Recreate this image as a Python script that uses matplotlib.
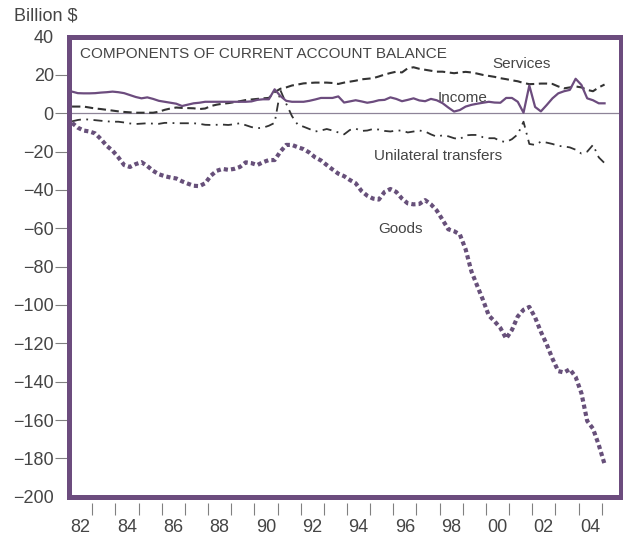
import numpy as np
import pandas as pd
import matplotlib
matplotlib.use("Agg")
import matplotlib.pyplot as plt
from matplotlib.patches import Rectangle

plt.rcParams['font.family'] = ['Liberation Sans', 'DejaVu Sans']

# Quarterly data, 1982Q1 - 2005Q1, billion $
quarters = pd.period_range('1982Q1', '2005Q1', freq='Q')

goods = [-5, -7.5, -9, -9.5, -10.5, -13.5, -17, -19.5, -23, -27,
         -28, -26.5, -25.5, -27.5, -30, -31.8, -32.8, -33.5, -34, -35.5,
         -36.7, -37.8, -38, -36.5, -32.5, -30, -29, -29.5, -29, -28,
         -25.6, -26, -27, -25.5, -24.4, -24.4, -20, -16.5, -16.5, -17.7,
         -18.7, -20.5, -23, -24.6, -27, -29.3, -31.5, -32.8, -34.8, -36.5,
         -40.5, -43, -44.5, -45, -41, -39.5, -41, -44.5, -47, -47.5,
         -47.3, -45.3, -47.5, -50.7, -55.5, -60.5, -61.5, -63.2, -71, -82.5,
         -90, -97.4, -105.5, -108.5, -112, -117.5, -113, -106, -102.5, -101,
         -106.5, -114, -120.5, -128, -134.5, -135.2, -133.5, -137.5, -146, -160.5,
         -164.5, -173, -183]

income = [11.3, 10.5, 10.4, 10.4, 10.5, 10.8, 11, 11.3, 11, 10.5,
          9.5, 8.5, 7.8, 8.3, 7.5, 6.5, 6, 5.5, 5, 3.8,
          4.5, 5.2, 5.5, 6, 6, 6, 6, 6, 6, 6,
          6, 6.2, 7, 7.3, 7.3, 12.5, 9, 6.5, 6, 6,
          6, 6.5, 7.2, 8, 8, 8, 8.8, 5.6, 6.2, 6.8,
          6.2, 5.5, 6, 6.8, 7, 8.3, 7.5, 6.3, 7, 7.8,
          6.7, 6.3, 7.5, 6.8, 5.3, 3, 0.9, 1.7, 3.5, 4.4,
          5, 5.5, 6, 5.6, 5.5, 8, 8, 6, 0.3, 14.5,
          3.3, 1, 4.3, 7.8, 10.4, 11.5, 12.2, 18, 14.8, 7.8,
          6.8, 5.2, 5.2]

services = [3.5, 3.5, 3.5, 3, 2.5, 2.2, 1.8, 1.4, 1, 0.7,
            0.5, 0.3, 0.3, 0.3, 0.3, 0.8, 1.8, 2.5, 3, 2.8,
            2.7, 2.6, 2.2, 2.5, 3.8, 4.5, 5, 5.3, 5.8, 6.3,
            6.9, 7.2, 7.5, 7.8, 8, 11, 12.8, 13.5, 14.5, 15,
            15.6, 15.8, 16, 16, 16, 15.8, 15.3, 16, 16.5, 17,
            17.7, 18, 18.3, 19.2, 20.2, 21, 21.7, 21.3, 23.5, 24,
            23.2, 22.7, 22.2, 21.7, 21.7, 21.3, 20.9, 21.3, 21.6, 21.3,
            20.7, 20, 19.5, 19, 18.3, 17.8, 17.2, 16.7, 15.8, 15.2,
            15.3, 15.5, 15.5, 15.3, 14, 13, 13.5, 14, 13.5, 12.2,
            11.5, 13.5, 15]

transfers = [-4.2, -3.5, -3.1, -3.3, -3.6, -3.9, -4.2, -4.4, -4.4, -4.8,
             -5.3, -5.6, -5.4, -5.2, -5.4, -5.5, -5, -5, -5.2, -5.2,
             -5.2, -5.2, -5.5, -6, -6.1, -6, -5.9, -6.1, -5.7, -5.2,
             -6.2, -7.2, -7.8, -7.5, -6.5, -5, 12, 5, -1.5, -6,
             -7, -8.2, -9.5, -9, -8.2, -9, -10, -11, -8.7, -8,
             -9.2, -9, -8.2, -8.5, -9.2, -9.5, -9, -9, -10, -9.5,
             -9, -9.5, -11, -12.2, -11.5, -12, -13, -13.5, -11.5, -11.3,
             -11.3, -12.5, -13, -13, -14.5, -15, -13.5, -11, -4.4, -16,
             -16.5, -14.8, -15.3, -16, -17, -17.3, -17.8, -19, -21, -20,
             -16.5, -23, -26]

year_labels = ['82', '84', '86', '88', '90', '92', '94', '96', '98', '00', '02', '04']
y_ticks = list(range(-200, 41, 20))

# quarter midpoints on a decimal-year axis
x = quarters.year + (quarters.quarter - 0.5) / 4

purple = '#6c4c7e'
dark = '#333333'
text_col = '#454545'

fig = plt.figure(figsize=(6.23, 5.42), dpi=100)
ax = fig.add_axes([69.15 / 623, 45.3 / 542, 552.2 / 623, 460.1 / 542])

ax.axhline(0, color='#8e8498', lw=0.9, zorder=1)
ax.plot(x, services, color=dark, lw=1.5, ls=(0, (4, 2.2)), zorder=3)
ax.plot(x, transfers, color=dark, lw=1.3, ls=(0, (5, 3, 1, 3)), zorder=3)
ax.plot(x, income, color=purple, lw=1.6, zorder=4)
ax.plot(x, goods, color='#67507a', lw=3.0, ls=(0, (1, 0.75)), zorder=4)

ax.set_xlim(1982, 2005.85)
ax.set_ylim(-200, 40)

# frame
for s in ax.spines.values():
    s.set_visible(False)
ax.spines['bottom'].set_position(('outward', 4.5))
ax.add_patch(Rectangle((0, 0), 1, 1, transform=ax.transAxes, fill=False,
                       ec=purple, lw=3.6, clip_on=False, zorder=6))

# x axis: labels centred on years, ticks at year boundaries
ax.set_xticks([1982.5 + 2 * i for i in range(len(year_labels))])
ax.set_xticklabels(year_labels)
ax.set_xticks(range(1983, 2006), minor=True)
ax.tick_params(axis='x', which='major', length=0, pad=11.5, labelsize=13, labelcolor=text_col)
ax.tick_params(axis='x', which='minor', length=8.5, width=0.8, color='#808080')

ax.set_yticks(y_ticks)
ax.set_yticklabels([f'{v}'.replace('-', '\u2212') for v in y_ticks])
ax.tick_params(axis='y', which='major', length=10, width=0.8, color='#808080',
               pad=1, labelsize=13, labelcolor=text_col)
ticks = ax.yaxis.get_major_ticks()
ticks[0].tick1line.set_visible(False)
ticks[-1].tick1line.set_visible(False)

fig.text(14 / 623, 1 - 20 / 542, 'Billion $', fontsize=13, color=text_col)

lab = dict(fontsize=11, color=text_col, va='baseline')
ax.text(1982.47, 28.8, 'COMPONENTS OF CURRENT ACCOUNT BALANCE', **lab)
ax.text(2001.52, 23.6, 'Services', ha='center', **lab)
ax.text(1998.99, 5.9, 'Income', ha='center', **lab)
ax.text(1997.95, -24.4, 'Unilateral transfers', ha='center', **lab)
ax.text(1996.29, -62.3, 'Goods', ha='center', **lab)

fig.savefig('out.png', dpi=100)
